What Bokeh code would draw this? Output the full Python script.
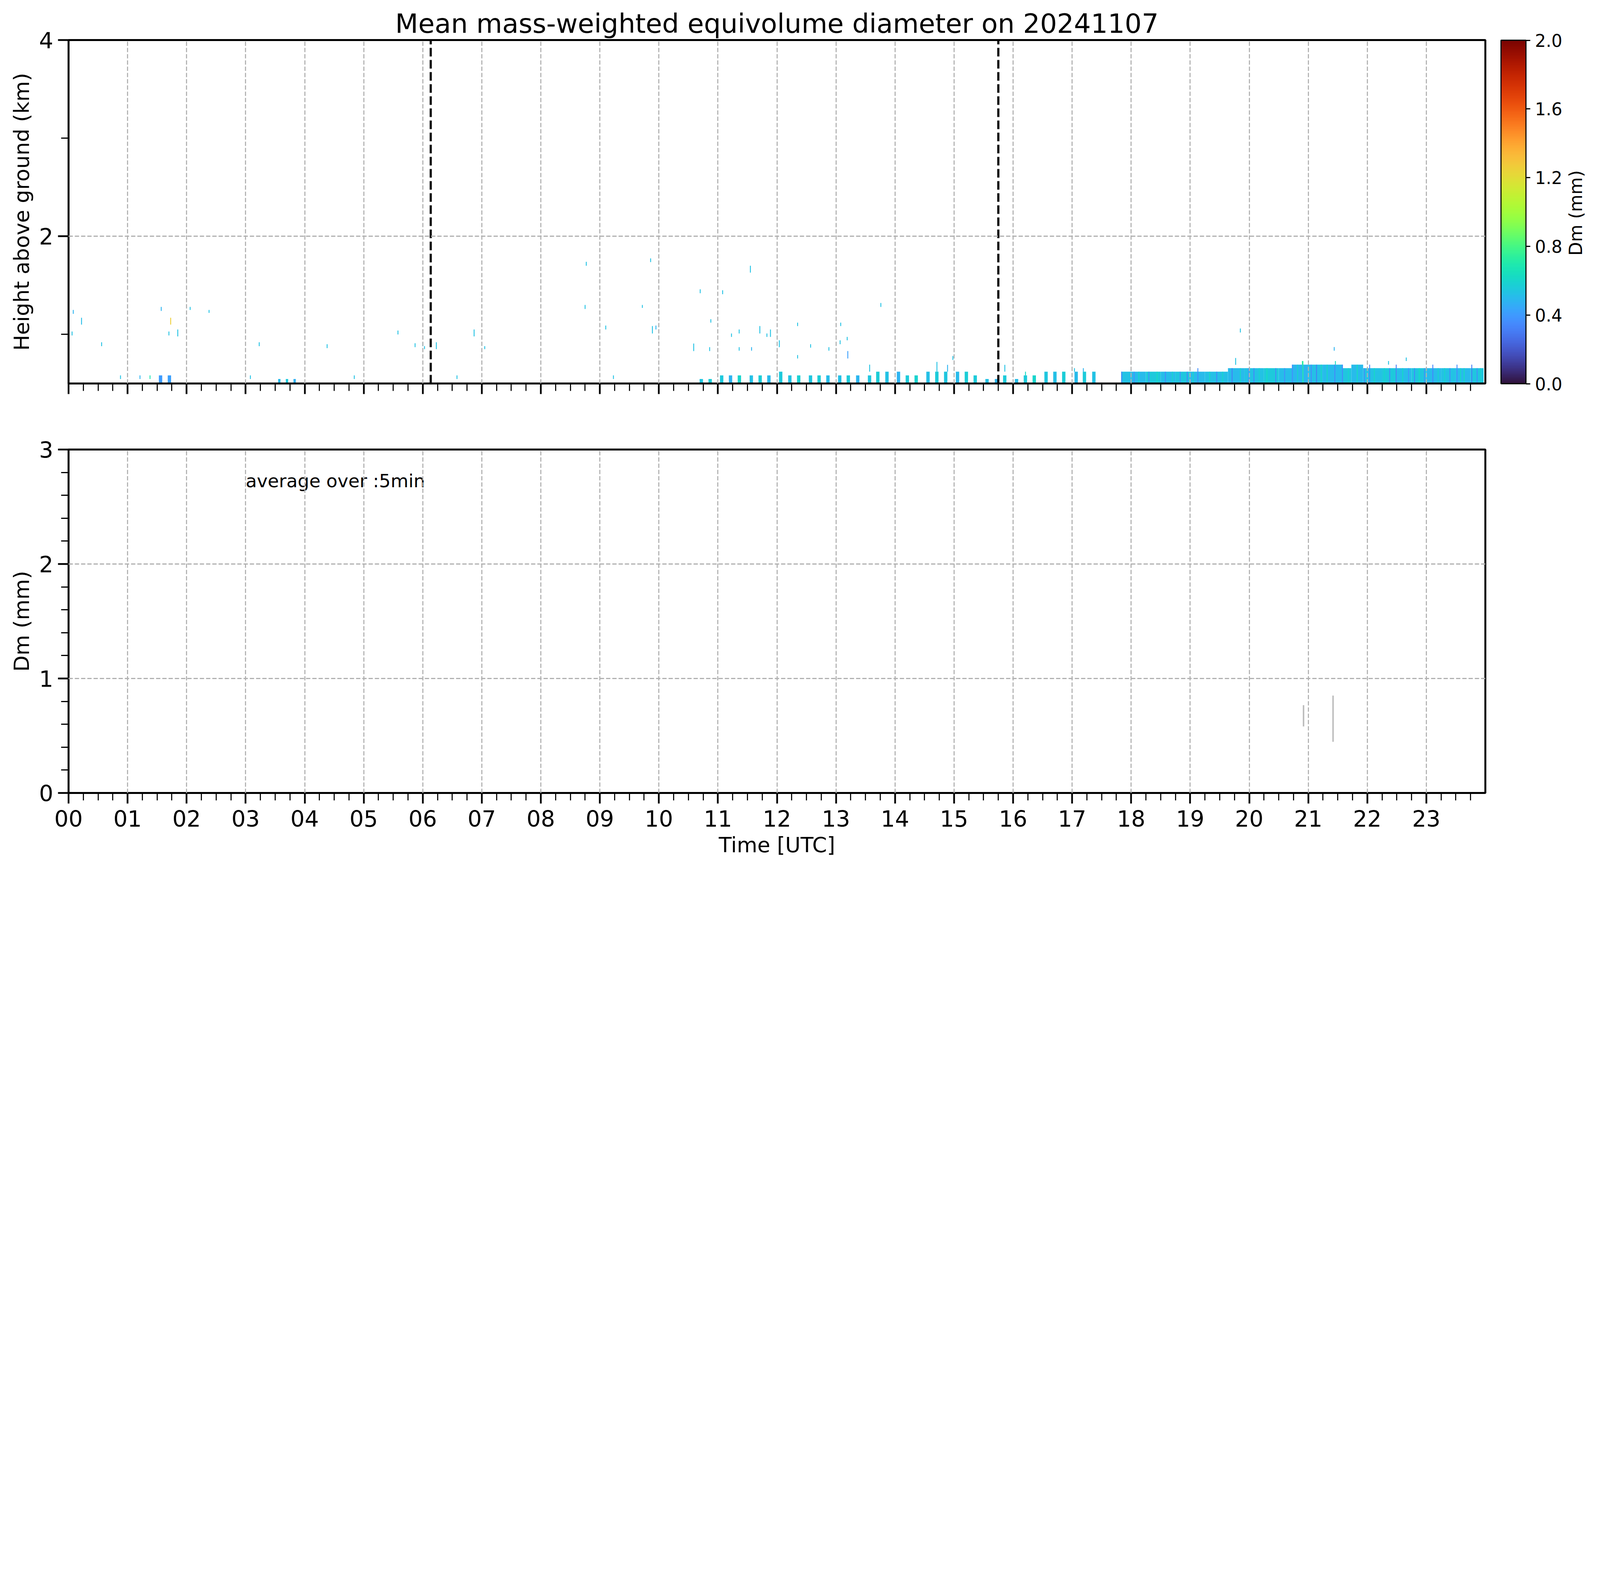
import math
from bokeh.plotting import figure
from bokeh.models import (ColumnDataSource, Range1d, FixedTicker, ColorBar, LinearAxis,
                          LinearColorMapper, PrintfTickFormatter)
from bokeh.layouts import column
from bokeh.palettes import Turbo256
from bokeh.core.properties import value
from bokeh.embed import file_html
from bokeh.resources import INLINE

FONT = "DejaVu Sans"
TITLE = "Mean mass-weighted equivolume diameter on 20241107"

# ---------------- data ----------------
hour_ticks = [0, 1, 2, 3, 4, 5, 6, 7, 8, 9, 10, 11, 12, 13, 14, 15, 16, 17, 18, 19, 20, 21, 22, 23]
hour_labels = ["00", "01", "02", "03", "04", "05", "06", "07", "08", "09", "10", "11",
               "12", "13", "14", "15", "16", "17", "18", "19", "20", "21", "22", "23"]
cbar_ticks = [0.0, 0.4, 0.8, 1.2, 1.6, 2.0]
cbar_label = "Dm (mm)"
vline_times = [6.135, 15.75]
ground_km = 0.50

# periodic precipitation columns (start time [h], top height [km], Dm [mm])
bar_start = [1.53, 1.68,
             10.035, 10.19, 10.33, 10.54, 10.69, 10.84,
             11.035, 11.185, 11.335, 11.537, 11.687, 11.835,
             12.035, 12.19, 12.34, 12.54, 12.685, 12.835,
             13.035, 13.18, 13.34, 13.54, 13.68, 13.835,
             14.03, 14.18, 14.33, 14.53, 14.68, 14.83,
             15.03, 15.18, 15.33, 15.53, 15.69, 15.83,
             16.03, 16.18, 16.33, 16.53, 16.68, 16.83,
             17.04, 17.18, 17.34]
bar_top = [0.583, 0.583,
           0.510, 0.510, 0.510, 0.510, 0.546, 0.546,
           0.583, 0.583, 0.583, 0.583, 0.583, 0.583,
           0.620, 0.583, 0.583, 0.583, 0.583, 0.583,
           0.583, 0.583, 0.583, 0.583, 0.620, 0.620,
           0.620, 0.583, 0.583, 0.620, 0.620, 0.620,
           0.620, 0.620, 0.583, 0.546, 0.546, 0.583,
           0.546, 0.583, 0.583, 0.620, 0.620, 0.620,
           0.620, 0.620, 0.620]
bar_dm = [0.40, 0.42,
          0.55, 0.48, 0.51, 0.46, 0.54, 0.57,
          0.55, 0.48, 0.60, 0.52, 0.57, 0.50,
          0.55, 0.53, 0.58, 0.54, 0.57, 0.51,
          0.52, 0.56, 0.49, 0.54, 0.57, 0.53,
          0.48, 0.56, 0.59, 0.52, 0.56, 0.54,
          0.50, 0.57, 0.56, 0.53, 0.49, 0.56,
          0.51, 0.56, 0.60, 0.54, 0.52, 0.57,
          0.50, 0.56, 0.53]

# small echoes in the lowest gates
low_t = [0.57, 0.72, 0.84, 1.05, 1.21, 1.85, 2.05, 2.19, 2.33, 2.55, 3.57, 3.70, 3.83,
         4.05, 4.21, 4.55, 5.08, 5.25, 5.39, 6.18, 6.34, 6.70, 6.86, 7.05, 7.30, 7.60,
         7.95, 8.30, 8.55, 8.85, 9.05, 9.36, 9.74]
low_top = [0.51, 0.51, 0.51, 0.51, 0.51, 0.51, 0.51, 0.51, 0.51, 0.51, 0.546, 0.546, 0.546,
           0.51, 0.51, 0.51, 0.51, 0.51, 0.51, 0.51, 0.51, 0.51, 0.51, 0.51, 0.51, 0.51,
           0.51, 0.51, 0.51, 0.51, 0.51, 0.51, 0.51]
low_dm = [0.55, 0.38, 0.55, 0.60, 0.50, 0.55, 0.65, 0.45, 0.55, 0.60, 0.50, 0.55, 0.47,
          0.55, 0.60, 0.55, 0.50, 0.55, 0.65, 0.42, 0.55, 0.50, 0.57, 0.55, 0.60, 0.50,
          0.55, 0.55, 0.47, 0.60, 0.55, 0.51, 0.55]

# continuous precipitation block in the evening
blk_t0 = [17.83, 18.00, 18.25, 18.50, 18.75, 19.00, 19.25, 19.64, 19.92, 20.25, 20.50, 20.73,
          21.00, 21.25, 21.58, 21.73, 21.93, 22.25, 22.50, 22.75, 23.00, 23.25, 23.50, 23.75]
blk_t1 = [18.00, 18.25, 18.50, 18.75, 19.00, 19.25, 19.64, 19.92, 20.25, 20.50, 20.73, 21.00,
          21.25, 21.58, 21.73, 21.93, 22.25, 22.50, 22.75, 23.00, 23.25, 23.50, 23.75, 23.97]
blk_top = [0.620, 0.620, 0.620, 0.620, 0.620, 0.620, 0.620, 0.656, 0.656, 0.656, 0.656, 0.692,
           0.692, 0.692, 0.656, 0.692, 0.656, 0.656, 0.656, 0.656, 0.656, 0.656, 0.656, 0.656]
blk_dm = [0.53, 0.50, 0.55, 0.51, 0.54, 0.50, 0.52, 0.50, 0.53, 0.55, 0.51, 0.49,
          0.52, 0.50, 0.54, 0.50, 0.53, 0.55, 0.51, 0.54, 0.50, 0.53, 0.50, 0.54]

# distinct streaks inside the evening block
stripe_t = [17.84, 18.05, 18.13, 18.30, 18.44, 18.58, 18.70, 18.83, 18.95, 19.05, 19.13, 19.33,
            19.45, 19.55, 19.71, 19.85, 19.99, 20.08, 20.17, 20.30, 20.45, 20.60, 20.73, 20.82,
            20.91, 21.05, 21.14, 21.22, 21.32, 21.45, 21.58, 21.68, 21.83, 21.95, 22.04, 22.12,
            22.29, 22.38, 22.49, 22.60, 22.70, 22.80, 22.88, 22.97, 23.11, 23.20, 23.31, 23.40,
            23.52, 23.58, 23.64, 23.77, 23.86, 23.92]
stripe_top = [0.620, 0.620, 0.620, 0.620, 0.620, 0.620, 0.620, 0.620, 0.620, 0.620, 0.656, 0.620,
              0.620, 0.620, 0.656, 0.656, 0.656, 0.656, 0.656, 0.656, 0.656, 0.656, 0.692, 0.692,
              0.729, 0.692, 0.692, 0.692, 0.692, 0.692, 0.692, 0.656, 0.692, 0.656, 0.692, 0.656,
              0.656, 0.656, 0.692, 0.656, 0.656, 0.656, 0.656, 0.656, 0.692, 0.656, 0.656, 0.656,
              0.692, 0.656, 0.656, 0.692, 0.656, 0.656]
stripe_dm = [0.34, 0.38, 0.62, 0.36, 0.64, 0.35, 0.60, 0.37, 0.33, 0.62, 0.36, 0.62,
             0.35, 0.60, 0.32, 0.62, 0.38, 0.34, 0.60, 0.64, 0.34, 0.36, 0.36, 0.60,
             0.72, 0.35, 0.32, 0.62, 0.62, 0.34, 0.35, 0.60, 0.64, 0.36, 0.34, 0.62,
             0.60, 0.35, 0.32, 0.62, 0.38, 0.34, 0.64, 0.36, 0.34, 0.60, 0.60, 0.35,
             0.36, 0.62, 0.64, 0.32, 0.36, 0.60]

# isolated echoes aloft (time [h], bottom [km], top [km], Dm [mm])
spk_t = [0.06, 0.08, 0.22, 0.56, 0.88, 1.21, 1.38, 1.57, 1.70, 1.73, 1.85, 2.06, 2.38,
         3.08, 3.23, 4.38, 4.84, 5.58, 5.87, 6.00, 6.03, 6.23, 6.58, 6.87, 7.05,
         8.75, 8.77, 9.10, 9.23, 9.72, 9.86, 9.89, 9.95, 10.59, 10.70, 10.86, 10.88,
         11.08, 11.23, 11.36, 11.36, 11.55, 11.57, 11.71, 11.83, 11.89, 12.04, 12.35, 12.35,
         12.57, 12.88, 13.07, 13.08, 13.19, 13.20, 13.57, 13.76, 14.71, 14.89, 14.98, 15.86,
         16.21, 17.04, 17.19, 19.77, 19.85, 20.90, 21.44, 21.46, 22.36, 22.66]
spk_lo = [0.99, 1.21, 1.10, 0.88, 0.546, 0.546, 0.546, 1.24, 0.99, 1.10, 0.98, 1.25, 1.22,
          0.546, 0.88, 0.86, 0.546, 1.00, 0.87, 0.88, 0.85, 0.85, 0.546, 0.98, 0.85,
          1.26, 1.70, 1.05, 0.546, 1.27, 1.737, 1.01, 1.05, 0.83, 1.42, 0.83, 1.12,
          1.41, 0.975, 1.01, 0.834, 1.63, 0.834, 1.01, 0.975, 0.975, 0.87, 1.085, 0.755,
          0.865, 0.834, 0.90, 1.085, 0.94, 0.755, 0.620, 1.28, 0.620, 0.620, 0.74, 0.620,
          0.583, 0.620, 0.620, 0.69, 1.02, 0.692, 0.834, 0.692, 0.692, 0.729]
spk_hi = [1.03, 1.25, 1.17, 0.92, 0.583, 0.583, 0.583, 1.28, 1.03, 1.17, 1.05, 1.28, 1.25,
          0.583, 0.92, 0.90, 0.583, 1.04, 0.91, 0.92, 0.88, 0.92, 0.583, 1.05, 0.88,
          1.30, 1.74, 1.09, 0.583, 1.30, 1.775, 1.085, 1.09, 0.907, 1.46, 0.87, 1.155,
          1.45, 1.01, 1.05, 0.87, 1.70, 0.87, 1.085, 1.01, 1.05, 0.94, 1.12, 0.79,
          0.90, 0.87, 0.94, 1.12, 0.975, 0.83, 0.692, 1.32, 0.72, 0.69, 0.78, 0.69,
          0.620, 0.656, 0.656, 0.76, 1.06, 0.729, 0.871, 0.729, 0.729, 0.765]
spk_dm = [0.53, 0.48, 0.51, 0.53, 0.53, 0.48, 0.68, 0.48, 0.53, 1.25, 0.53, 0.53, 0.53,
          0.53, 0.53, 0.53, 0.53, 0.53, 0.53, 0.53, 0.53, 0.53, 0.53, 0.53, 0.53,
          0.53, 0.53, 0.53, 0.53, 0.53, 0.53, 0.53, 0.48, 0.53, 0.53, 0.53, 0.53,
          0.53, 0.53, 0.53, 0.53, 0.53, 0.48, 0.53, 0.53, 0.53, 0.53, 0.53, 0.53,
          0.53, 0.53, 0.53, 0.53, 0.53, 0.42, 0.53, 0.53, 0.53, 0.48, 0.53, 0.53,
          0.63, 0.53, 0.48, 0.53, 0.53, 0.72, 0.48, 0.63, 0.53, 0.53]

# lower panel: surface Dm (5-min average) spread
dm_t = [20.92, 21.42]
dm_lo = [0.581, 0.447]
dm_hi = [0.767, 0.851]

# ---------------- layout constants (CSS px) ----------------
K = 4096 / 7442          # reference pixels -> CSS px of the page
W = 4090
H1 = 1081
H2 = 1127
RIGHT = 282
BAR_W = 0.057
LOW_W = 0.04
SPK_W = 0.015
STR_W = 0.015


def px(v):
    return "%.1fpx" % (v * K)


mapper = LinearColorMapper(palette=Turbo256, low=0.0, high=2.0)


def add_quads(p, left, right, bottom, top, dm):
    src = ColumnDataSource(dict(left=left, right=right, bottom=bottom, top=top, dm=dm))
    p.quad(left="left", right="right", bottom="bottom", top="top", source=src,
           fill_color={"field": "dm", "transform": mapper}, line_color=None)


def style_common(p):
    p.outline_line_color = "black"
    p.outline_line_width = 9 * K
    p.outline_line_alpha = 1.0
    p.background_fill_color = "white"
    p.border_fill_color = "white"
    for g in (p.xgrid[0], p.ygrid[0]):
        g.grid_line_color = "#b0b0b0"
        g.grid_line_width = 5 * K
        g.grid_line_dash = "11 5"
        g.level = "guide"
    for ax in (p.xaxis[0], p.yaxis[0]):
        ax.axis_line_color = "black"
        ax.axis_line_width = 9 * K
        ax.major_tick_line_color = "black"
        ax.major_tick_line_width = 8 * K
        ax.minor_tick_line_color = "black"
        ax.minor_tick_line_width = 5 * K
        ax.major_tick_in = 0
        ax.major_tick_out = round(49 * K)
        ax.minor_tick_in = 0
        ax.minor_tick_out = round(35 * K)
        ax.major_label_text_font = FONT
        ax.major_label_text_font_size = px(104)
        ax.major_label_text_color = "black"
        ax.axis_label_text_font = FONT
        ax.axis_label_text_font_size = px(98)
        ax.axis_label_text_font_style = "normal"
        ax.axis_label_text_color = "black"
    p.xaxis[0].major_label_standoff = 17
    p.xaxis[0].axis_label_standoff = 12
    p.yaxis[0].major_label_standoff = 12
    p.yaxis[0].axis_label_standoff = 10
    p.xaxis[0].ticker = FixedTicker(ticks=hour_ticks,
                                    minor_ticks=[q * 0.25 for q in range(97) if q % 4])
    p.xaxis[0].major_label_overrides = {t: lab for t, lab in zip(hour_ticks, hour_labels)}


# ---------------- top panel ----------------
p1 = figure(width=W, height=H1, x_range=Range1d(0, 24), y_range=Range1d(0.5, 4),
            output_backend="svg", toolbar_location=None, title=TITLE,
            min_border_left=175, min_border_right=RIGHT, min_border_top=102,
            min_border_bottom=100)
p1.title.text_font = FONT
p1.title.text_font_size = px(124)
p1.title.text_font_style = "normal"
p1.title.text_color = "black"
p1.title.align = "center"
p1.title.standoff = round(10 * K)
style_common(p1)
p1.xaxis[0].major_label_text_font_size = "10px"
p1.xaxis[0].major_label_text_color = None
p1.yaxis[0].ticker = FixedTicker(ticks=[2, 4], minor_ticks=[1, 3])
p1.yaxis[0].axis_label = "Height above ground (km)"

add_quads(p1, blk_t0, blk_t1, [ground_km] * len(blk_t0), blk_top, blk_dm)
add_quads(p1, [t - STR_W / 2 for t in stripe_t], [t + STR_W / 2 for t in stripe_t],
          [ground_km] * len(stripe_t), stripe_top, stripe_dm)
add_quads(p1, bar_start, [t + BAR_W for t in bar_start], [ground_km] * len(bar_start),
          bar_top, bar_dm)
add_quads(p1, [t - LOW_W / 2 for t in low_t], [t + LOW_W / 2 for t in low_t],
          [ground_km] * len(low_t), low_top, low_dm)
add_quads(p1, [t - SPK_W / 2 for t in spk_t], [t + SPK_W / 2 for t in spk_t],
          spk_lo, spk_hi, spk_dm)

p1.segment(x0=vline_times, x1=vline_times, y0=[0.5] * len(vline_times),
           y1=[4.0] * len(vline_times), line_color="black", line_width=10 * K,
           line_dash="22 9")

cb = ColorBar(color_mapper=mapper, ticker=FixedTicker(ticks=cbar_ticks),
              formatter=PrintfTickFormatter(format="%.1f"),
              width=round(116 * K), height=879, location="center_left",
              margin=0, padding=round(73 * K),
              major_tick_in=0, major_tick_out=round(20 * K),
              major_tick_line_color="black", major_tick_line_width=5 * K,
              minor_tick_line_color=None,
              bar_line_color="black", bar_line_width=5 * K,
              border_line_color=None, background_fill_alpha=0.0,
              label_standoff=round(22 * K),
              major_label_text_font=FONT, major_label_text_font_size=px(80),
              major_label_text_color="black")
p1.add_layout(cb, "right")

# colour-bar label: a single rotated tick label of an otherwise empty axis
# (tick placed so that the text, which starts at the tick, is centred on the bar)
p1.extra_y_ranges = {"cb": Range1d(0, 2)}
label_tick = 0.744
cb_axis = LinearAxis(y_range_name="cb", ticker=FixedTicker(ticks=[label_tick]),
                     major_label_overrides={label_tick: cbar_label},
                     major_label_orientation=math.pi / 2,
                     axis_line_color=None,
                     major_tick_line_color=None, minor_tick_line_color=None,
                     major_tick_in=0, major_tick_out=0, minor_tick_in=0, minor_tick_out=0,
                     major_label_standoff=-8,
                     major_label_text_font=FONT, major_label_text_font_size=px(83),
                     major_label_text_color="black")
p1.add_layout(cb_axis, "right")

# ---------------- bottom panel ----------------
p2 = figure(width=W, height=H2, x_range=Range1d(0, 24), y_range=Range1d(0, 3),
            output_backend="svg", toolbar_location=None,
            min_border_left=175, min_border_right=RIGHT, min_border_top=69,
            min_border_bottom=179)
style_common(p2)
p2.yaxis[0].ticker = FixedTicker(ticks=[0, 1, 2, 3],
                                 minor_ticks=[q * 0.2 for q in range(16) if q % 5])
p2.yaxis[0].axis_label = "Dm (mm)"
p2.xaxis[0].axis_label = "Time [UTC]"

p2.segment(x0=dm_t, x1=dm_t, y0=dm_lo, y1=dm_hi, line_color="#bdbdbd", line_width=7 * K)
p2.text(x=[3.0], y=[2.726], text=["average over :5min"], text_font=value(FONT),
        text_font_size=px(85), text_align="left", text_baseline="alphabetic",
        text_color="black")

layout = column(p1, p2)
open("out.html", "w").write(file_html(layout, INLINE))
